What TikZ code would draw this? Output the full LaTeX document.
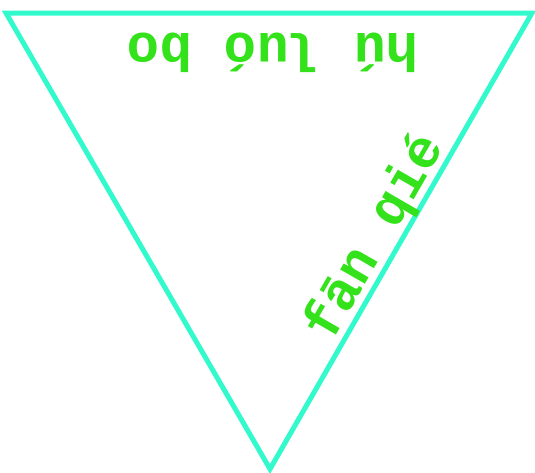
\documentclass[tikz,border=0pt]{standalone}
\usepackage{fontspec}
\setmonofont{Liberation Mono}
\definecolor{edgecol}{RGB}{51,250,204}
\definecolor{txtcol}{RGB}{51,226,26}
\tikzset{
  edge/.style={draw=edgecol, line width=5pt, line join=miter},
  lbl/.style={text=txtcol, font=\ttfamily\bfseries\fontsize{54}{60}\selectfont, inner sep=0pt, anchor=base}
}
\begin{document}
\begin{tikzpicture}[x=1pt,y=-1pt]
\useasboundingbox (0,0) rectangle (535,472);
\coordinate (tl) at (6,13);
\coordinate (tr) at (532,13);
\coordinate (ap) at (270,469);
\draw[edge] (tl) -- (tr) -- (ap) -- cycle;
\node[lbl, rotate=180] (top) at (273,33) {hú luó bo};
\node[lbl, rotate=60] (side) at (388,245) {fān qié};
\end{tikzpicture}
\end{document}
